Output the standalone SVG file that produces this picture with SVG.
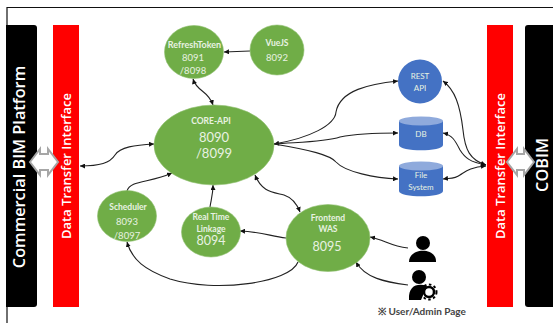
<svg xmlns="http://www.w3.org/2000/svg" width="553" height="323" viewBox="0 0 553 323">
<style>
.g{fill:#70ad47;stroke:#8fc06f;stroke-width:.6}
.b{fill:#4472c4}
.t{fill:#e8f2e2;font-family:Lato,"Open Sans",sans-serif;text-anchor:middle}
.h{fill:#fff;font-family:"Open Sans",sans-serif;font-weight:600;text-anchor:middle}
.c{fill:none;stroke:#222;stroke-width:1.1;marker-end:url(#a)}
.d{marker-start:url(#s)}
.x{fill:#fff;stroke:#a6a6a6;stroke-width:2}
</style>
<defs>
<marker id="a" markerUnits="userSpaceOnUse" markerWidth="6" markerHeight="5" refX="5" refY="2.500" orient="auto"><path d="M0 0L5 2.500L0 5Z" fill="#111"/></marker>
<marker id="s" markerUnits="userSpaceOnUse" markerWidth="6" markerHeight="5" refX="0" refY="2.500" orient="auto"><path d="M5 0L0 2.500L5 5Z" fill="#111"/></marker>
</defs>
<rect width="553" height="323" fill="#fff"/>
<g id="frame"><path d="M7 323V7.500H553" fill="none" stroke="#111" stroke-width="1.200"/></g>
<g id="commercial-bim"><path d="M6 25H34Q37 25 37 28V304Q37 307 34 307H6Z" fill="#000"/><text class="h" transform="translate(25 167) rotate(-90)" font-size="16.300">Commercial BIM Platform</text></g>
<g id="cobim"><path d="M553 25H528Q525 25 525 28V304Q525 307 528 307H553Z" fill="#000"/><text class="h" transform="translate(548 165) rotate(-90)" font-size="16.300">COBIM</text></g>
<g id="interface-left"><rect x="53" y="25" width="26" height="282" fill="#f00"/><text class="h" transform="translate(71 166) rotate(-90)" font-size="13">Data Transfer Interface</text></g>
<g id="interface-right"><rect x="487" y="25" width="26" height="282" fill="#f00"/><text class="h" transform="translate(505 166) rotate(-90)" font-size="13">Data Transfer Interface</text></g>
<g id="link-left"><path class="x" d="M30 162L40 149V154H48V149L58 162L48 175V170H40V175Z"/></g>
<g id="link-right"><path class="x" d="M507 162L517 149V154H524V149L534 162L524 175V170H517V175Z"/></g>
<g id="connectors">
<path class="c" d="M250 51L224 52"/>
<path class="c d" d="M193 79C197 92 208 90 213 105"/>
<path class="c d" d="M80 166C100 166 110 163 115 155C120 147 135 145 154 144"/>
<path class="c" d="M127 191C130 180 150 183 172 173"/>
<path class="c" d="M210 207C211 200 213 195 213 185"/>
<path class="c" d="M286 238C270 236 262 232 240 231"/>
<path class="c" d="M298 262C290 283 215 293 170 279C145 270 132 260 127 242"/>
<path class="c d" d="M255 175C262 192 272 192 284 195C293 198 297 204 300 212"/>
<path class="c d" d="M274 144C310 138 335 125 336 112C340 90 370 84 398 81"/>
<path class="c" d="M274 144C300 142 325 142 340 137C355 134 380 133 398 133"/>
<path class="c" d="M274 144C310 150 330 155 336 162C345 172 375 178 398 179"/>
<path class="c d" d="M486 165C470 160 465 150 463 130C460 105 455 90 443 81"/>
<path class="c d" d="M486 165C470 162 465 158 460 150C455 140 452 135 443 133"/>
<path class="c d" d="M486 166C470 167 465 172 460 175C455 179 450 178 443 179"/>
<path class="c" d="M408 248C390 246 385 240 370 237"/>
<path class="c" d="M408 285C385 282 365 278 356 262"/>
</g>
<g id="refreshtoken"><ellipse class="g" cx="194" cy="52" rx="29.500" ry="26.500"/><text class="t" x="194.500" y="48" font-size="9" font-weight="700">RefreshToken</text><text class="t" x="193" y="60.500" font-size="9.500">8091</text><text class="t" x="193" y="74" font-size="9.500">/8098</text></g>
<g id="vuejs"><ellipse class="g" cx="277" cy="50" rx="27" ry="25"/><text class="t" x="277" y="46" font-size="8.500" font-weight="700">VueJS</text><text class="t" x="277" y="61" font-size="9.500">8092</text></g>
<g id="core-api"><ellipse class="g" cx="214" cy="145" rx="60" ry="40"/><text class="t" x="211" y="124" font-size="8.500" font-weight="700">CORE-API</text><text class="t" x="214" y="141.500" font-size="13">8090</text><text class="t" x="214" y="157.500" font-size="13">/8099</text></g>
<g id="scheduler"><ellipse class="g" cx="127" cy="216" rx="29.500" ry="25.500"/><text class="t" x="128" y="210" font-size="8.500" font-weight="700">Scheduler</text><text class="t" x="127" y="225" font-size="9.500">8093</text><text class="t" x="127" y="239" font-size="9.500">/8097</text></g>
<g id="realtime"><ellipse class="g" cx="211" cy="232" rx="29.500" ry="25"/><text class="t" x="211" y="220" font-size="8.500" font-weight="700">Real Time</text><text class="t" x="211" y="232" font-size="8.500" font-weight="700">Linkage</text><text class="t" x="211" y="245" font-size="12.500">8094</text></g>
<g id="frontend"><ellipse class="g" cx="328" cy="238" rx="42" ry="33.500"/><text class="t" x="328" y="221" font-size="8.500" font-weight="700">Frontend</text><text class="t" x="328" y="232" font-size="8.500" font-weight="700">WAS</text><text class="t" x="327" y="251" font-size="12.500">8095</text></g>
<g id="rest-api"><circle class="b" cx="420" cy="81.500" r="22"/><text class="t" x="420" y="79" font-size="8">REST</text><text class="t" x="420" y="91" font-size="8">API</text></g>
<g id="db"><path class="b" d="M399 121V145C399 152 443 152 443 145V121Z"/><ellipse cx="421" cy="121" rx="22" ry="4.500" fill="#8faadc"/><text class="t" x="421" y="137" font-size="8">DB</text></g>
<g id="file-system"><path class="b" d="M399 166V191C399 198 443 198 443 191V166Z"/><ellipse cx="421" cy="166" rx="22" ry="4.500" fill="#8faadc"/><text class="t" x="421" y="178" font-size="8">File</text><text class="t" x="421" y="189.500" font-size="8">System</text></g>
<g id="user"><circle cx="423" cy="243" r="7"/><path d="M409 262C409 247 437 247 436 262Z"/></g>
<g id="admin"><circle cx="419" cy="277" r="7"/><path d="M409 300C408 285 418 283 427 286L421 300Z"/><circle cx="429" cy="292" r="5" fill="none" stroke="#000" stroke-width="2.500"/><circle cx="429" cy="292" r="7.500" fill="none" stroke="#000" stroke-width="2" stroke-dasharray="2.500 2.500"/></g>
<g id="caption"><text x="378" y="315" font-family="Lato,'Open Sans',sans-serif" font-size="10" font-weight="700" fill="#444">※ User/Admin Page</text></g>
</svg>
